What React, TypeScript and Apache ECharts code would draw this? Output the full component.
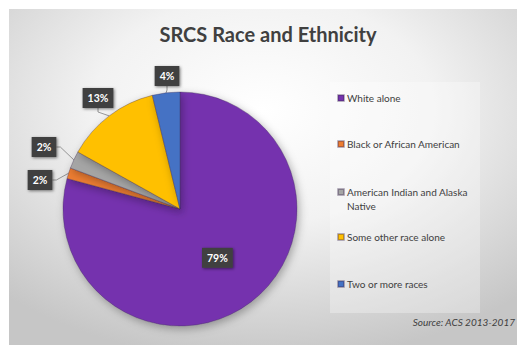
import React, { useEffect, useRef } from "react";
import * as echarts from "echarts";

const titleText = "SRCS Race and Ethnicity";
const sourceText = "Source: ACS 2013-2017";
const categories = [
  "White alone",
  "Black or African American",
  "American Indian and Alaska Native",
  "Some other race alone",
  "Two or more races",
];
const values = [79.2, 1.5, 2.4, 13.1, 3.8];
const colors = ["#7433AE", "#ED7D31", "#A5A5A5", "#FFC000", "#4472C4"];

export default function App() {
  const ref = useRef<HTMLDivElement>(null);
  useEffect(() => {
    if (!ref.current) return;
    const chart = echarts.init(ref.current, undefined, { renderer: "svg" });
    const total = values.reduce((a, b) => a + b, 0);
    const font = "Lato";
    const legendTops = [91, 137, 171, 230, 277];
    // label box centres (outside labels), by data index
    const labelAt: Record<number, [number, number]> = {
      1: [40, 180],
      2: [44, 147],
      3: [98, 98],
      4: [167, 76],
    };
    chart.setOption({
      animation: false,
      backgroundColor: "#ffffff",
      textStyle: { fontFamily: font },
      graphic: [
        {
          type: "rect",
          z: -10,
          shape: { x: 9, y: 9, width: 508, height: 336 },
          style: {
            fill: new echarts.graphic.RadialGradient(0.5, 0.3, 0.75, [
              { offset: 0, color: "#ffffff" },
              { offset: 0.45, color: "#f2f2f2" },
              { offset: 1, color: "#c6c6c6" },
            ]),
          },
          silent: true,
        },
        {
          type: "rect",
          z: -5,
          shape: { x: 330, y: 82, width: 150, height: 231 },
          style: { fill: "rgba(255,255,255,0.3)" },
          silent: true,
        },
        {
          type: "text",
          x: 268,
          y: 34,
          style: {
            text: titleText,
            fontFamily: font,
            fontWeight: "bold",
            fontSize: 20,
            fill: "#404040",
            align: "center",
            verticalAlign: "middle",
          },
        },
        {
          type: "text",
          x: 515,
          y: 322,
          style: {
            text: sourceText,
            fontFamily: font,
            fontStyle: "italic",
            fontSize: 10,
            fill: "#404040",
            align: "right",
            verticalAlign: "middle",
          },
        },
      ],
      legend: categories.map((c, i) => ({
        data: [c],
        left: 337,
        top: legendTops[i],
        padding: 0,
        orient: "vertical",
        icon: "rect",
        itemWidth: 6,
        itemHeight: 6,
        selectedMode: false,
        formatter: (name: string) =>
          name === "American Indian and Alaska Native"
            ? "\nAmerican Indian and Alaska\nNative"
            : name,
        textStyle: {
          fontFamily: font,
          fontSize: 10,
          color: "#404040",
          lineHeight: 14,
          padding: [0, 0, 0, -2],
        },
      })),
      series: [
        {
          type: "pie",
          center: [180, 209],
          radius: 117,
          startAngle: 90,
          clockwise: true,
          avoidLabelOverlap: false,
          itemStyle: {
            borderColor: "rgba(60,40,80,0.35)",
            borderWidth: 1,
            shadowBlur: 8,
            shadowColor: "rgba(0,0,0,0.3)",
            shadowOffsetX: 2,
            shadowOffsetY: 3,
          },
          label: {
            show: true,
            position: "outside",
            formatter: (p: any) => Math.round((p.value / total) * 100) + "%",
            backgroundColor: "#404040",
            color: "#ffffff",
            fontFamily: font,
            fontWeight: "bold",
            fontSize: 10.5,
            padding: [5, 5, 4, 5],
            shadowBlur: 3,
            shadowColor: "rgba(0,0,0,0.5)",
            shadowOffsetX: 1,
            shadowOffsetY: 1,
          },
          labelLine: {
            show: true,
            length: 10,
            length2: 4,
            lineStyle: { color: "#7f7f7f", width: 0.8 },
          },
          labelLayout: (p: any) => {
            const pos = labelAt[p.dataIndex];
            if (!pos) return {};
            return {
              x: pos[0],
              y: pos[1],
              align: "center",
              verticalAlign: "middle",
              hideOverlap: false,
            };
          },
          data: categories.map((c, i) => ({
            name: c,
            value: values[i],
            itemStyle: { color: colors[i] },
            label: i === 0 ? { position: "inside" } : undefined,
          })),
        },
      ],
    });
    return () => chart.dispose();
  }, []);
  return (
    <div
      ref={ref}
      style={{ position: "fixed", left: 0, top: 0, width: 517, height: 345 }}
    />
  );
}
